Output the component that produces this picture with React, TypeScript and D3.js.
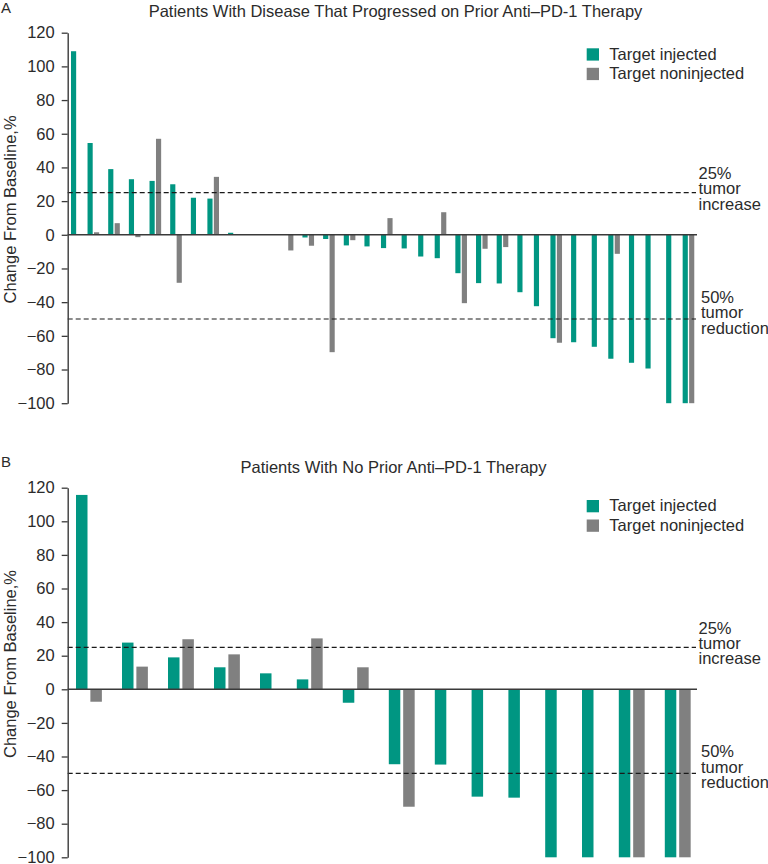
import React, { useEffect, useRef } from 'react';
import * as d3 from 'd3';

// Panel A: patients whose disease progressed on prior anti-PD-1 therapy
// null = no noninjected target lesion for that patient
const injectedA = [109, 54.5, 39, 33, 32, 30, 22, 21.5, 1.2, 0, 0, 0, -1.6, -2.5, -6.3, -6.9, -7.9, -8.1, -12.9, -13.9, -22.8, -28.7, -28.9, -34.1, -42.4, -61.4, -63.8, -66.5, -73.6, -76, -79.4, -100, -100];
const noninjectedA = [null, 1.5, 6.9, -1.4, 57, -28.5, null, 34.4, 0, null, null, -9.3, -6.5, -69.7, -3.2, null, 9.9, null, null, 13.4, -40.6, -8.3, -7.3, null, null, -64.1, 0, null, -11.3, null, 0, null, -100];

// Panel B: patients with no prior anti-PD-1 therapy
const injectedB = [115.7, 27.8, 19, 13.1, 9.5, 5.9, -8, -44.6, -44.8, -63.9, -64.5, -100, -100, -100, -100];
const noninjectedB = [-7.4, 13.5, 29.8, 20.8, null, 30.3, 13.1, -69.9, null, null, null, null, null, -100, -100];

const yTicks = [120, 100, 80, 60, 40, 20, 0, -20, -40, -60, -80, -100];
const thresholdValues = [25, -50];
const thresholdLabels = [['25%', 'tumor', 'increase'], ['50%', 'tumor', 'reduction']];
const legendLabels = ['Target injected', 'Target noninjected'];
const panelLetters = ['A', 'B'];
const panelTitles = [
  'Patients With Disease That Progressed on Prior Anti\u2013PD-1 Therapy',
  'Patients With No Prior Anti\u2013PD-1 Therapy',
];

const TEAL = '#009682';
const GRAY = '#808080';
const INK = '#2b2b2b';
const FONT = '"Liberation Sans", Arial, Helvetica, sans-serif';
const FS = 16.5;

interface PanelLayout {
  letterY: number;
  titleY: number;
  titleX: number;
  yTop: number;
  yBottom: number;
  xStart: number;
  unit: number;
  legendY: number;
}

const layouts: PanelLayout[] = [
  { letterY: 12.5, titleY: 17, titleX: 395.5, yTop: 32.7, yBottom: 403.2, xStart: 71, unit: 5.166, legendY: 48.3 },
  { letterY: 467, titleY: 473, titleX: 393.5, yTop: 487.7, yBottom: 857.3, xStart: 76, unit: 11.5, legendY: 500 },
];

const AXIS_X = 67.7;
const PLOT_RIGHT = 697;

function drawPanel(
  svg: d3.Selection<SVGSVGElement, unknown, null, undefined>,
  idx: number,
  injected: number[],
  noninjected: (number | null)[],
) {
  const L = layouts[idx];
  const g = svg.append('g');

  const yScale = d3.scaleLinear().domain([120, -100]).range([L.yTop, L.yBottom]);

  // group widths: 3.2 bar units, +0.8 when there is a noninjected bar
  const starts: number[] = [];
  let acc = 0;
  injected.forEach((_, i) => {
    starts.push(acc);
    acc += 3.2 + (noninjected[i] !== null ? 0.8 : 0);
  });
  const xScale = d3.scaleLinear().domain([0, acc]).range([L.xStart, L.xStart + acc * L.unit]);
  const bw = xScale(1) - xScale(0);

  // letter + title
  g.append('text').attr('x', 1).attr('y', L.letterY).attr('font-size', 15).attr('fill', INK).text(panelLetters[idx]);
  g.append('text').attr('x', L.titleX).attr('y', L.titleY).attr('text-anchor', 'middle')
    .attr('font-size', FS).attr('fill', INK).text(panelTitles[idx]);

  // legend
  legendLabels.forEach((lab, i) => {
    const y = L.legendY + i * 19.5;
    g.append('rect').attr('x', 586.7).attr('y', y).attr('width', 12.3).attr('height', 12.3)
      .attr('fill', i === 0 ? TEAL : GRAY);
    g.append('text').attr('x', 609.3).attr('y', y + 11.2).attr('font-size', FS).attr('fill', INK).text(lab);
  });

  // bars
  const bars = injected.map((v, i) => ({ v, i }));
  g.selectAll('.inj').data(bars).enter().append('rect')
    .attr('x', d => xScale(starts[d.i]))
    .attr('y', d => yScale(Math.max(0, d.v)))
    .attr('width', bw)
    .attr('height', d => Math.abs(yScale(d.v) - yScale(0)))
    .attr('fill', TEAL);

  const grayBars = noninjected
    .map((v, i) => ({ v, i }))
    .filter(d => d.v !== null) as { v: number; i: number }[];
  g.selectAll('.non').data(grayBars).enter().append('rect')
    .attr('x', d => xScale(starts[d.i] + 1.25))
    .attr('y', d => yScale(Math.max(0, d.v)))
    .attr('width', bw)
    .attr('height', d => Math.abs(yScale(d.v) - yScale(0)))
    .attr('fill', GRAY);

  // threshold lines + labels
  thresholdValues.forEach((tv, ti) => {
    g.append('line')
      .attr('x1', AXIS_X).attr('x2', 696)
      .attr('y1', yScale(tv)).attr('y2', yScale(tv))
      .attr('stroke', '#1a1a1a').attr('stroke-width', 1.2).attr('stroke-dasharray', '5,3');
    const dy0 = ti === 0 ? -13.8 : -16;
    const tx = ti === 0 ? 698.5 : 701;
    const t = g.append('text').attr('x', tx).attr('y', yScale(tv) + dy0)
      .attr('font-size', FS).attr('fill', INK);
    thresholdLabels[ti].forEach((line, li) => {
      t.append('tspan').attr('x', tx).attr('dy', li === 0 ? 0 : 15.4).text(line);
    });
  });

  // zero baseline
  g.append('line')
    .attr('x1', AXIS_X).attr('x2', PLOT_RIGHT)
    .attr('y1', yScale(0)).attr('y2', yScale(0))
    .attr('stroke', '#3a3a3a').attr('stroke-width', 1.4);

  // y axis
  const yAxis = d3.axisLeft(yScale).tickValues(yTicks).tickSize(6).tickSizeOuter(0).tickPadding(7);
  const ax = g.append('g').attr('transform', `translate(${AXIS_X},0)`).call(yAxis);
  ax.select('.domain').attr('stroke', '#3a3a3a').attr('stroke-width', 1.4);
  ax.selectAll('.tick line').attr('stroke', '#3a3a3a').attr('stroke-width', 1.3);
  ax.selectAll('.tick text').attr('font-size', FS).attr('font-family', FONT).attr('fill', INK);

  // y label
  const midY = (L.yTop + L.yBottom) / 2 - 8.5;
  g.append('text')
    .attr('transform', `translate(16,${midY}) rotate(-90)`)
    .attr('text-anchor', 'middle')
    .attr('font-size', FS).attr('fill', INK)
    .text('Change From Baseline,%');
}

export default function App() {
  const ref = useRef<SVGSVGElement>(null);

  useEffect(() => {
    if (!ref.current) return;
    const svg = d3.select(ref.current);
    svg.selectAll('*').remove();
    drawPanel(svg, 0, injectedA, noninjectedA);
    drawPanel(svg, 1, injectedB, noninjectedB);
  }, []);

  return (
    <svg
      ref={ref}
      width={768}
      height={864}
      style={{ position: 'absolute', left: 0, top: 0, background: '#fff', fontFamily: FONT }}
    />
  );
}
